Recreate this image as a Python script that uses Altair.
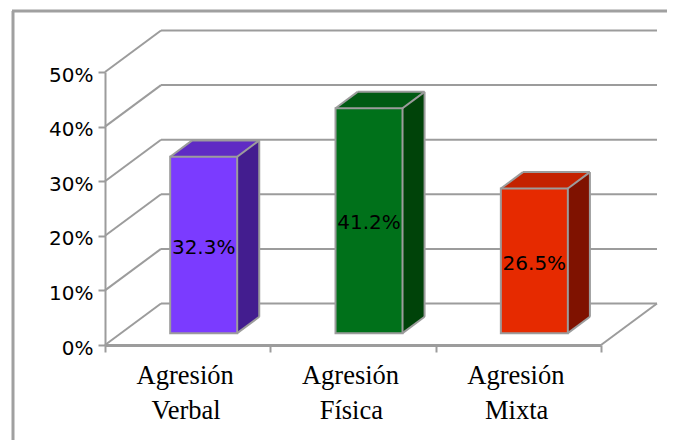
import altair as alt
import pandas as pd

# values
categories_line1 = ["Agresión", "Agresión", "Agresión"]
categories_line2 = ["Verbal", "Física", "Mixta"]
values = [32.3, 41.2, 26.5]
labels = ["32.3%", "41.2%", "26.5%"]
front_colors = ["#7b3bff", "#00711a", "#e62a00"]
top_colors = ["#5f2bc4", "#005a12", "#c42200"]
side_colors = ["#431d8f", "#004309", "#7f1200"]
y_ticks = [0, 10, 20, 30, 40, 50]
x_ticks = [0, 1, 2, 3]

# layout constants: plot box is the front floor edge and y axis
W, H = 496, 273
PX_X = W / 3          # px per category
PX_Y = H / 50         # px per percent
GRID = "#9c9c9c"

# oblique depth, in data units
DX, DY = 56 / PX_X, 41.5 / PX_Y
Z0, Z1 = 0.286, 0.68
BAR_W = 67 / PX_X


def project(x, y, z):
    return x + z * DX, y + z * DY


xs = alt.Scale(domain=[0, 3])
ys = alt.Scale(domain=[0, 50])
x_axis = alt.Axis(
    values=x_ticks, labels=False, grid=False, tickSize=7, tickWidth=2, tickColor=GRID,
    domainColor=GRID, domainWidth=3, title=None)
y_axis = alt.Axis(
    values=y_ticks, grid=False, tickSize=7, tickWidth=2, tickColor=GRID,
    domainColor=GRID, domainWidth=2, labelFont="DejaVu Sans", labelFontSize=20,
    labelColor="#000000", labelPadding=5, labelOffset=3, title=None,
    labelExpr="datum.value + '%'")

# wall + floor lines
lines = []
for t in y_ticks:
    bx, by = project(0, t, 1)
    ex, _ = project(3, t, 1)
    lines.append(dict(x=0, y=t, x2=bx, y2=by))   # left wall diagonal
    lines.append(dict(x=bx, y=by, x2=ex, y2=by)) # back wall horizontal
rx, ry = project(3, 0, 1)
lines.append(dict(x=3, y=0, x2=rx, y2=ry))       # right floor edge
lines_df = pd.DataFrame(lines)

side_rows, top_rows, front_rows, edge_rows, label_rows, cat_rows = [], [], [], [], [], []
for i, v in enumerate(values):
    cx = i + 0.5
    fx0, _ = project(cx - BAR_W / 2, 0, Z0)
    fx1 = fx0 + BAR_W
    _, fy0 = project(0, 0, Z0)
    fy1 = fy0 + v
    d = (Z1 - Z0) * DX
    e = (Z1 - Z0) * DY
    side_rows += [
        dict(id=i, x=fx1, y0=fy0, y1=fy1, c=side_colors[i]),
        dict(id=i, x=fx1 + d, y0=fy0 + e, y1=fy1 + e, c=side_colors[i]),
    ]
    top_rows += [
        dict(id=i, x=fx0, y0=fy1, y1=fy1, c=top_colors[i]),
        dict(id=i, x=fx0 + d, y0=fy1, y1=fy1 + e, c=top_colors[i]),
        dict(id=i, x=fx1, y0=fy1, y1=fy1 + e, c=top_colors[i]),
        dict(id=i, x=fx1 + d, y0=fy1 + e, y1=fy1 + e, c=top_colors[i]),
    ]
    front_rows.append(dict(x=fx0, x2=fx1, y=fy0, y2=fy1, c=front_colors[i]))
    edge_rows += [
        dict(x=fx1, y=fy0, x2=fx1 + d, y2=fy0 + e),
        dict(x=fx1 + d, y=fy0 + e, x2=fx1 + d, y2=fy1 + e),
        dict(x=fx1, y=fy1, x2=fx1 + d, y2=fy1 + e),
        dict(x=fx0, y=fy1, x2=fx0 + d, y2=fy1 + e),
        dict(x=fx0 + d, y=fy1 + e, x2=fx1 + d, y2=fy1 + e),
    ]
    label_rows.append(dict(x=(fx0 + fx1) / 2, y=fy0 + v / 2 - 0.5, t=labels[i]))
    cat_rows.append(dict(x=cx - 0.015, y=-31 / PX_Y, t=categories_line1[i]))
    cat_rows.append(dict(x=cx - 0.01, y=-66 / PX_Y, t=categories_line2[i]))

X = lambda f="x": alt.X(f"{f}:Q", scale=xs, axis=x_axis)
Y = lambda f="y": alt.Y(f"{f}:Q", scale=ys, axis=y_axis)

wall = alt.Chart(lines_df).mark_rule(color=GRID, strokeWidth=2).encode(
    x=X(), x2="x2:Q", y=Y(), y2="y2:Q")

side = alt.Chart(pd.DataFrame(side_rows)).mark_area().encode(
    x=X(), y=Y("y0"), y2="y1:Q", detail="id:N", color=alt.Color("c:N", scale=None))
top = alt.Chart(pd.DataFrame(top_rows)).mark_area().encode(
    x=X(), y=Y("y0"), y2="y1:Q", detail="id:N", color=alt.Color("c:N", scale=None))
front = alt.Chart(pd.DataFrame(front_rows)).mark_rect(stroke=GRID, strokeWidth=2).encode(
    x=X(), x2="x2:Q", y=Y(), y2="y2:Q", color=alt.Color("c:N", scale=None))
edges = alt.Chart(pd.DataFrame(edge_rows)).mark_rule(color=GRID, strokeWidth=2).encode(
    x=X(), x2="x2:Q", y=Y(), y2="y2:Q")

bar_text = alt.Chart(pd.DataFrame(label_rows)).mark_text(
    font="DejaVu Sans", fontSize=20, color="#000000", baseline="middle", align="center"
).encode(x=X(), y=Y(), text="t:N")
cat_text = alt.Chart(pd.DataFrame(cat_rows)).mark_text(
    font="Liberation Serif", fontSize=26.5, color="#000000", baseline="middle", align="center"
).encode(x=X(), y=Y(), text="t:N")

frame_left = alt.Chart(pd.DataFrame({"a": [0]})).mark_rule(color="#a0a0a0", strokeWidth=3).encode(
    x=alt.value(-92), y=alt.value(-61), y2=alt.value(H + 95))
frame_top = alt.Chart(pd.DataFrame({"a": [0]})).mark_rule(color="#a0a0a0", strokeWidth=3).encode(
    x=alt.value(-93), x2=alt.value(W + 66), y=alt.value(-61))

chart = alt.layer(
    frame_left, frame_top, wall, side, top, front, edges, bar_text, cat_text
).properties(
    width=W, height=H, autosize="none",
    padding={"left": 97, "top": 64, "right": 66, "bottom": 95},
    background="#ffffff",
).configure_view(stroke=None)

chart.save("out.html", embed_options={"renderer": "svg", "actions": False})
